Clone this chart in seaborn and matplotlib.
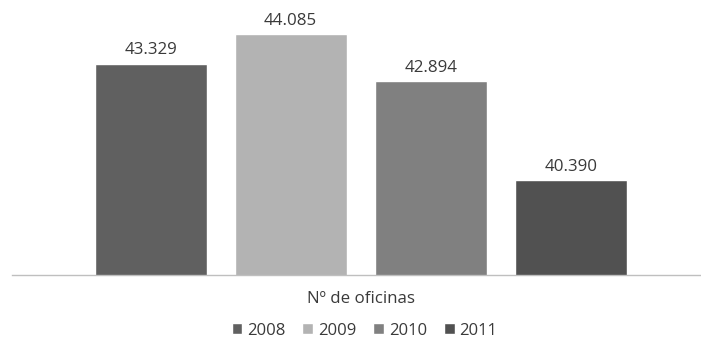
import matplotlib
matplotlib.use("Agg")
import matplotlib.pyplot as plt
import seaborn as sns
import pandas as pd

category = "Nº de oficinas"
years = ["2008", "2009", "2010", "2011"]
values = [43329, 44085, 42894, 40390]
colors = ["#606060", "#b3b3b3", "#808080", "#515151"]

df = pd.DataFrame({"cat": [category] * len(years), "year": years, "value": values})

sns.set_theme(style="white")
plt.rcParams["font.family"] = ["Open Sans", "DejaVu Sans"]
text_color = "#3a3a3a"

fig = plt.figure(figsize=(7.01, 3.41), dpi=100)
ax = fig.add_axes([0.017, 0.195, 0.982, 0.753])

sns.barplot(data=df, x="cat", y="value", hue="year", palette=colors,
            width=0.8, gap=0.2, ax=ax, legend=True, saturation=1)

ax.set_ylim(38000, 44500)
ax.set_xlim(-0.498, 0.485)

for cont in ax.containers:
    ax.bar_label(cont, labels=[f"{v/1000:.3f}" for v in cont.datavalues],
                 padding=4, fontsize=12.2, color=text_color)

for s in ["top", "right", "left"]:
    ax.spines[s].set_visible(False)
ax.spines["bottom"].set_color("#bfbfbf")
ax.spines["bottom"].set_linewidth(1)
ax.set_yticks([])
ax.set_xlabel("")
ax.set_ylabel("")
ax.tick_params(axis="x", length=0, pad=12, labelsize=12.2, labelcolor=text_color)

handles, labels = ax.get_legend_handles_labels()
ax.get_legend().remove()
fig.legend(handles, labels, loc="center", bbox_to_anchor=(0.52, 0.03), ncol=4,
           frameon=False, fontsize=12, handlelength=0.65, handleheight=0.65,
           handletextpad=0.3, columnspacing=1.0, labelcolor=text_color)

fig.savefig("out.png", dpi=100)
